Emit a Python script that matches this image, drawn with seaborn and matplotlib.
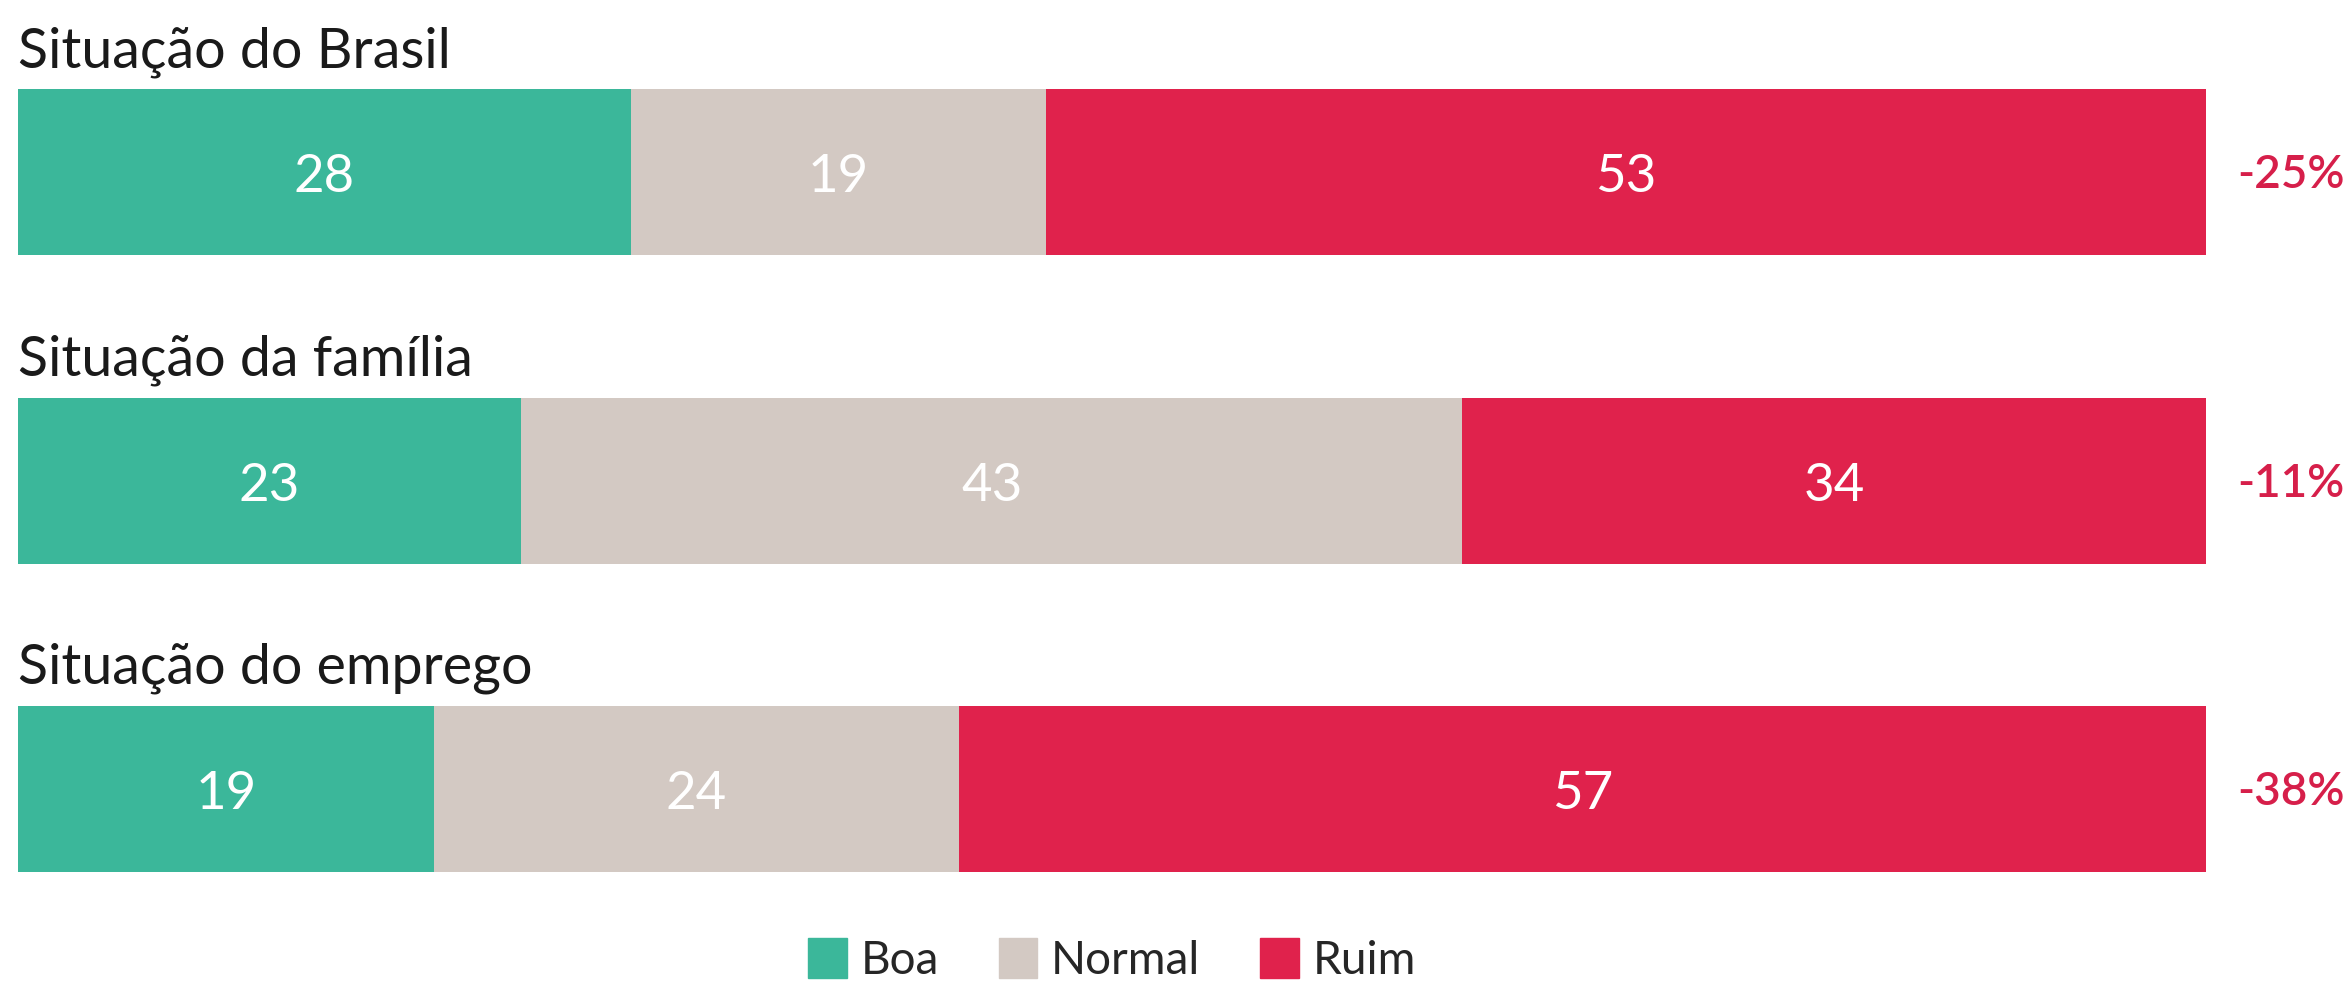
import matplotlib
matplotlib.use("Agg")
import matplotlib.pyplot as plt
import matplotlib.patches as mpatches
import seaborn as sns
import pandas as pd

# data
categorias = ["Situação do Brasil", "Situação da família", "Situação do emprego"]
boa = [28, 23, 19]
normal = [19, 43, 24]
ruim = [53, 34, 57]

cor_boa = "#3BB79A"
cor_normal = "#D3C9C3"
cor_ruim = "#E0224C"
cor_saldo = "#D61F4A"

df = pd.DataFrame({"categoria": categorias, "Boa": boa, "Normal": normal, "Ruim": ruim})
df["boa_normal"] = df["Boa"] + df["Normal"]
df["total"] = df["boa_normal"] + df["Ruim"]

sns.set_style("white")
plt.rcParams["font.family"] = ["Lato", "DejaVu Sans"]

fig = plt.figure(figsize=(23.51, 9.83), dpi=100)
ax = fig.add_axes([18 / 2351, 1 - 900 / 983, 2188 / 2351, 900 / 983])

passo = 308.5          # px between bar centres
bh = 166 / passo
# stacked bars: draw cumulative totals back to front
sns.barplot(data=df, y="categoria", x="total", orient="h", color=cor_ruim,
            saturation=1, width=bh, linewidth=0, ax=ax)
sns.barplot(data=df, y="categoria", x="boa_normal", orient="h", color=cor_normal,
            saturation=1, width=bh, linewidth=0, ax=ax)
sns.barplot(data=df, y="categoria", x="Boa", orient="h", color=cor_boa,
            saturation=1, width=bh, linewidth=0, ax=ax)

ax.set_xlim(0, 100)
ax.set_ylim((900 - 172) / passo, -172 / passo)
ax.set_axis_off()

for i, row in df.iterrows():
    yb = i + 20 / passo
    # numbers inside segments
    ax.text(row["Boa"] / 2, yb, str(row["Boa"]), color="white", fontsize=38,
            ha="center", va="baseline")
    ax.text(row["Boa"] + row["Normal"] / 2, yb, str(row["Normal"]), color="white",
            fontsize=38, ha="center", va="baseline")
    ax.text(row["boa_normal"] + row["Ruim"] / 2, yb, str(row["Ruim"]), color="white",
            fontsize=38, ha="center", va="baseline")
    # category title above each bar
    ax.text(0, i - 105 / passo, row["categoria"], fontsize=40, color="#1a1a1a",
            ha="left", va="baseline")
    # balance on the right
    saldo = row["Boa"] - row["Ruim"]
    ax.text(106.35, i + 16 / passo, f"{saldo}%", fontsize=33, color=cor_saldo,
            fontweight="semibold", ha="right", va="baseline", clip_on=False)

handles = [mpatches.Patch(color=cor_boa, label="Boa"),
           mpatches.Patch(color=cor_normal, label="Normal"),
           mpatches.Patch(color=cor_ruim, label="Ruim")]
fig.legend(handles=handles, loc="center", bbox_to_anchor=(1112 / 2351, 1 - 960 / 983),
           ncol=3, frameon=False, fontsize=33, handlelength=0.85, handleheight=0.95,
           handletextpad=0.3, columnspacing=1.3)

fig.savefig("out.png", dpi=100)
